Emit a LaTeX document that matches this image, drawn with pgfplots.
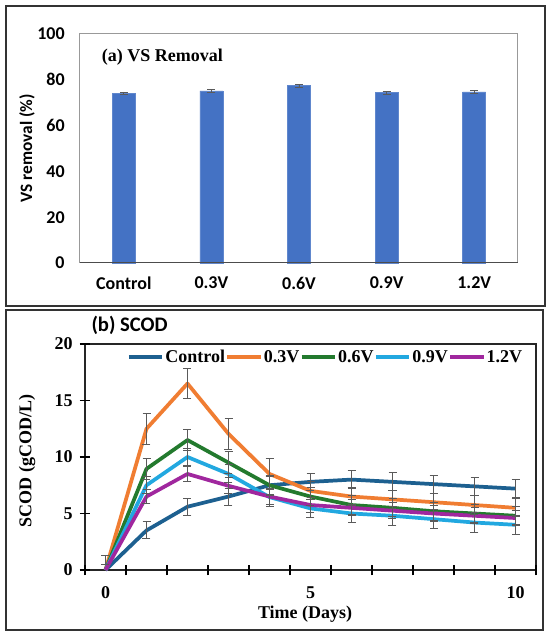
\documentclass[border=0pt]{standalone}
\usepackage{fontspec}
\setmainfont{Liberation Serif}
\newfontfamily\nsans{Carlito}
\usepackage{pgfplots}
\pgfplotsset{compat=1.18}
\definecolor{barblue}{HTML}{4472C4}
\definecolor{cctrl}{HTML}{1D6090}
\definecolor{c03}{HTML}{F07D32}
\definecolor{c06}{HTML}{237A2E}
\definecolor{c09}{HTML}{22A8E0}
\definecolor{c12}{HTML}{A0279E}
\definecolor{errgray}{HTML}{5A5A5A}
\begin{document}
\begin{tikzpicture}
\useasboundingbox (0pt,0pt) rectangle (412.5pt,477.75pt);
\fill[white] (0pt,0pt) rectangle (412.5pt,477.75pt);
% panel frames
\draw[black!80, line width=1.5pt] (4.5pt,248.25pt) rectangle (408.75pt,473.25pt);
\draw[black!80, line width=1.5pt] (4.5pt,5.25pt) rectangle (407.25pt,245.25pt);

% ---------------- (a) VS removal ----------------
\begin{axis}[
  at={(60pt,280.5pt)}, anchor=south west,
  scale only axis, width=328.5pt, height=171.75pt,
  xmin=-0.5, xmax=4.5, ymin=0, ymax=100,
  xtick={0,1,2,3,4},
  xticklabels={Control,0.3V,0.6V,0.9V,1.2V},
  ytick={0,20,40,60,80,100},
  major tick length=0pt,
  axis line style={black!40, line width=0.75pt},
  /pgf/number format/assume math mode=true,
  ticklabel style={font=\nsans\bfseries\fontsize{13.5}{15}\selectfont},
  yticklabel style={xshift=-8pt},
  xticklabel style={yshift=-7pt},
  every axis y label/.style={at={(axis description cs:-0.121,0.5)}, rotate=90, anchor=center},
  ylabel={\nsans\bfseries\fontsize{13}{15}\selectfont VS removal (\%)},
  clip=false,
]
\addplot[ybar, bar width=17.25pt, fill=barblue, draw=barblue!85!white,
  error bars/.cd, y dir=both, y explicit,
  error bar style={errgray, line width=0.6pt},
  error mark options={rotate=90, mark size=3pt, errgray, line width=0.6pt}]
  table[x=x, y=y, y error=e] {
x y e
0 74.1 0.6
1 75.2 0.5
2 77.4 0.6
3 74.4 0.6
4 74.7 0.6
};
\draw[black!70, line width=0.75pt] (rel axis cs:0,0) -- (rel axis cs:1,0);
\node[anchor=west, font=\bfseries\fontsize{13.5}{15}\selectfont] at (axis description cs:0.039,0.9) {(a) VS Removal};
\end{axis}

% ---------------- (b) SCOD ----------------
\begin{axis}[
  at={(63.75pt,50.25pt)}, anchor=south west,
  scale only axis, width=338.25pt, height=169.5pt,
  xmin=-0.5, xmax=10.5, ymin=0, ymax=20,
  xtick={-0.5,0.5,1.5,2.5,3.5,4.5,5.5,6.5,7.5,8.5,9.5,10.5},
  xticklabels={0,,,,,5,,,,,10,},
  ytick={0,5,10,15,20},
  tick pos=left,
  tick align=center,
  major tick length=7.5pt,
  tick style={black, line width=1pt},
  axis line style={black!85, line width=0.9pt},
  /pgf/number format/assume math mode=true,
  ticklabel style={font=\bfseries\fontsize{13.5}{15}\selectfont},
  yticklabel style={xshift=-2pt},
  xticklabel style={xshift=15.4pt, yshift=-5pt},
  every axis y label/.style={at={(axis description cs:-0.1286,0.482)}, rotate=90, anchor=center},
  every axis x label/.style={at={(axis description cs:0.488,-0.195)}, anchor=center},
  ylabel={\bfseries\fontsize{13.5}{15}\selectfont SCOD (gCOD/L)},
  xlabel={\bfseries\fontsize{13.5}{15}\selectfont Time (Days)},
  legend columns=5,
  legend style={at={(axis description cs:0.093,0.942)}, anchor=west, draw=none, fill=none,
    font=\bfseries\fontsize{13.5}{15}\selectfont, inner sep=0pt,
    /tikz/every odd column/.append style={column sep=0pt},
    /tikz/every even column/.append style={column sep=-0.5pt},
    nodes={inner xsep=1pt, inner ysep=1pt}},
  legend image code/.code={\draw[#1, line width=2.6pt] (0pt,0pt) -- (25pt,0pt);},
  clip=false,
  every axis plot/.append style={line width=2.8pt, line join=round},
  extra description/.code={
    \foreach \tx in {-0.5,0.5,1.5,2.5,3.5,4.5,5.5,6.5,7.5,8.5,9.5,10.5}
      {\draw[black, line width=1pt] (axis cs:\tx,0) ++(0,-3.75pt) -- ++(0,7.5pt);}
    \foreach \ty in {0,5,10,15,20}
      {\draw[black, line width=1pt] (axis cs:-0.5,\ty) ++(-3.75pt,0) -- ++(7.5pt,0);}
  },
]
\addplot[cctrl, mark=none] table {
0 0
1 3.5
2 5.6
3 6.5
4 7.5
5 7.8
6 8.0
7 7.8
8 7.6
9 7.4
10 7.2
};
\addlegendentry{Control}
\addplot[c03, mark=none] table {
0 0
1 12.5
2 16.5
3 12.05
4 8.5
5 7.0
6 6.5
7 6.25
8 6.0
9 5.75
10 5.5
};
\addlegendentry{0.3V}
\addplot[c06, mark=none] table {
0 0
1 8.95
2 11.5
3 9.5
4 7.5
5 6.5
6 5.75
7 5.5
8 5.2
9 5.0
10 4.8
};
\addlegendentry{0.6V}
\addplot[c09, mark=none] table {
0 0
1 7.5
2 10.0
3 8.5
4 6.45
5 5.45
6 5.0
7 4.8
8 4.5
9 4.2
10 4.0
};
\addlegendentry{0.9V}
\addplot[c12, mark=none] table {
0 0
1 6.5
2 8.5
3 7.45
4 6.5
5 5.75
6 5.5
7 5.25
8 5.0
9 4.8
10 4.6
};
\addlegendentry{1.2V}

% error bars (drawn over lines)
\pgfplotsset{errstyle/.style={forget plot, draw=none, mark=none, line width=0.75pt,
  error bars/.cd, y dir=both, y explicit,
  error bar style={draw=errgray, line width=0.75pt},
  error mark options={rotate=90, mark size=3pt, draw=errgray, line width=0.75pt}}}
\addplot[errstyle] table[x=x, y=y, y error=e] {
x y e
0 0.9 0.4
1 3.5 0.75
2 5.6 0.75
3 6.5 0.75
4 7.5 0.8
5 7.8 0.78
6 8.0 0.8
7 7.8 0.8
8 7.6 0.8
9 7.4 0.8
10 7.2 0.8
};
\addplot[errstyle] table[x=x, y=y, y error=e] {
x y e
1 12.5 1.35
2 16.5 1.35
3 12.05 1.4
4 8.5 1.35
5 7.0 0.8
6 6.5 0.8
7 6.25 0.8
8 6.0 0.8
9 5.75 0.8
10 5.5 0.8
};
\addplot[errstyle] table[x=x, y=y, y error=e] {
x y e
1 8.95 0.9
2 11.5 0.9
3 9.5 1.0
4 7.5 0.9
5 6.5 0.8
6 5.75 0.8
7 5.5 0.8
8 5.2 0.8
9 5.0 0.8
10 4.8 0.8
};
\addplot[errstyle] table[x=x, y=y, y error=e] {
x y e
1 7.5 0.75
2 10.0 0.75
3 8.5 0.8
4 6.45 0.8
5 5.45 0.8
6 5.0 0.8
7 4.8 0.85
8 4.5 0.85
9 4.2 0.85
10 4.0 0.85
};
\addplot[errstyle] table[x=x, y=y, y error=e] {
x y e
1 6.5 0.65
2 8.5 0.65
3 7.45 0.7
4 6.5 0.7
5 5.75 0.7
6 5.5 0.7
7 5.25 0.7
8 5.0 0.7
9 4.8 0.7
10 4.6 0.7
};
\node[anchor=west, font=\nsans\bfseries\fontsize{15.5}{17}\selectfont] at (axis description cs:0.004,1.084) {(b) SCOD};
\end{axis}
\end{tikzpicture}
\end{document}
